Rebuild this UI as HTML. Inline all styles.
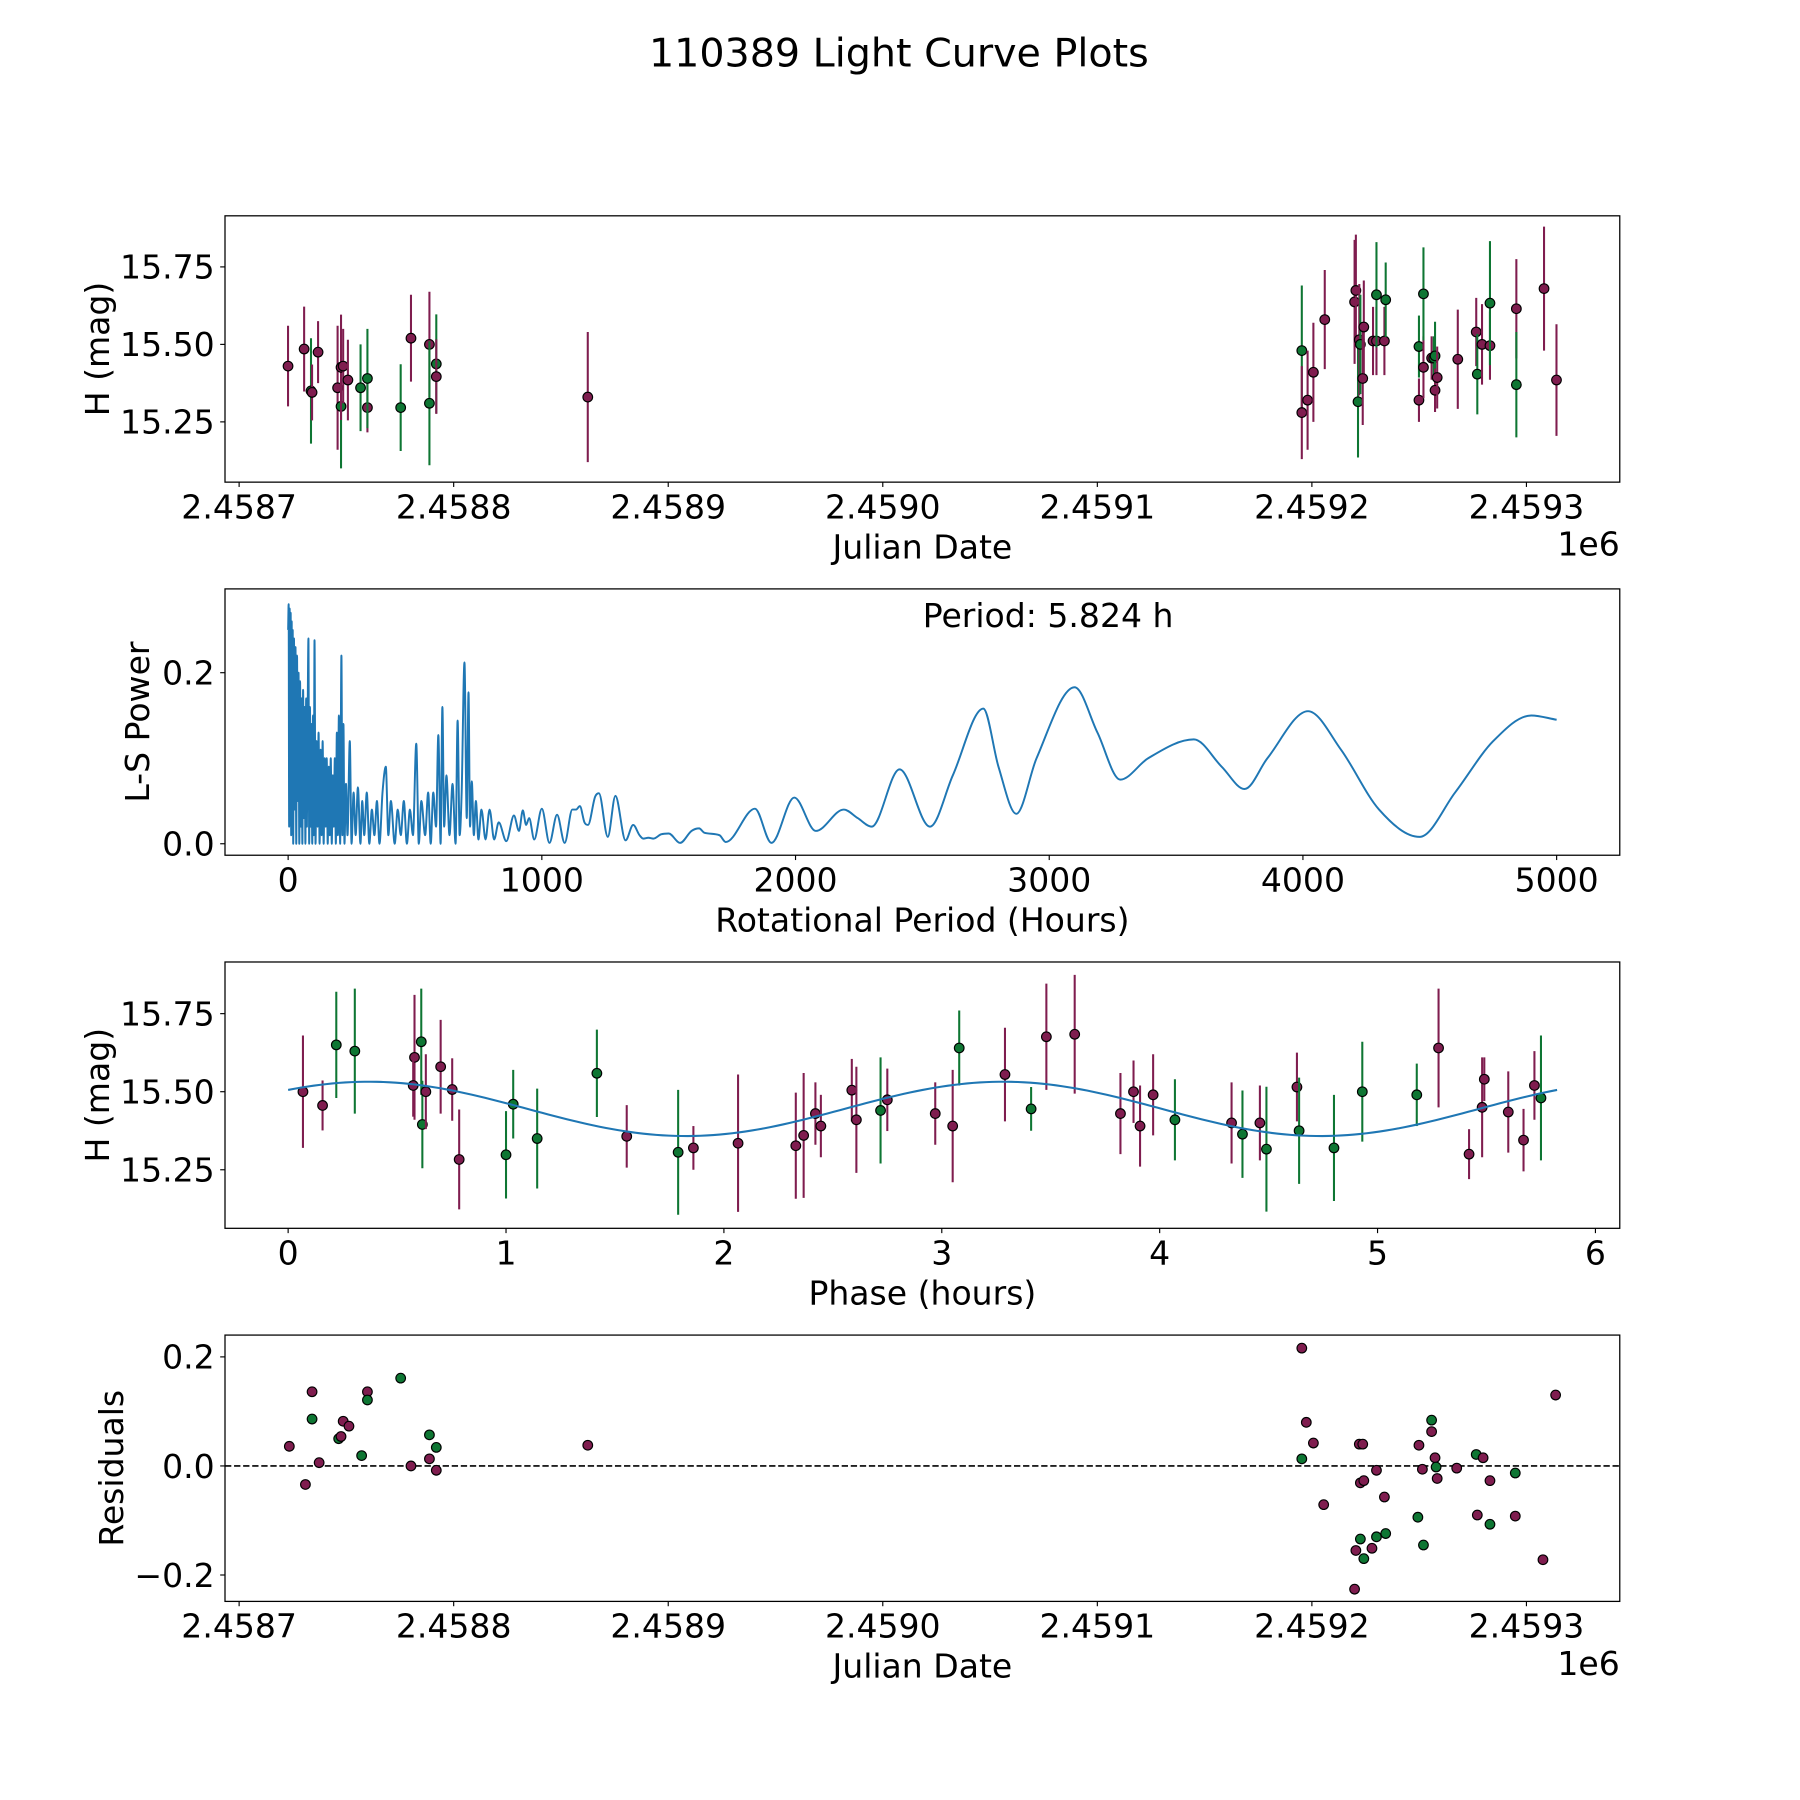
<!DOCTYPE html>
<html><head><meta charset="utf-8"><title>110389 Light Curve Plots</title>
<style>
html,body{margin:0;padding:0;background:#fff;}
svg{display:block;}
text{font-family:"DejaVu Sans","Liberation Sans",sans-serif;fill:#000;}
</style></head>
<body>
<svg id="fig" width="1800" height="1800" viewBox="0 0 1568 1568" xmlns="http://www.w3.org/2000/svg">
<text x="783" y="58" font-size="34.5" text-anchor="middle">110389 Light Curve Plots</text>
</svg>
<script>
// ---------- Panel 1: light curve (day offset from 2458700) ----------
const lcDays = [22.8,30.3,33.5,34.0,36.8,45.9,47.5,47.5,48.5,50.7,56.6,59.8,59.8,75.3,80.1,88.7,88.7,91.9,91.9,162.5,
 495.3,495.3,498,500.7,506,519.9,520.5,521.5,522.1,522.6,523.7,524.2,528.5,530.1,530.1,533.8,534.4,549.9,549.9,552,552,555.8,556.8,557.4,557.4,558.4,568,576.6,577.1,579.3,583,583,595.3,595.3,608.2,614];
const lcMag = [15.43,15.485,15.35,15.345,15.475,15.36,15.30,15.426,15.43,15.385,15.36,15.296,15.39,15.296,15.52,15.5,15.31,15.437,15.396,15.33,
 15.48,15.28,15.32,15.41,15.58,15.637,15.674,15.315,15.515,15.5,15.39,15.556,15.511,15.511,15.66,15.511,15.644,15.493,15.32,15.426,15.663,15.456,15.456,15.463,15.352,15.393,15.452,15.54,15.404,15.5,15.496,15.633,15.615,15.37,15.68,15.385];
const lcErr = [0.13,0.137,0.17,0.09,0.1,0.2,0.2,0.17,0.12,0.13,0.14,0.08,0.16,0.14,0.14,0.17,0.2,0.16,0.12,0.21,
 0.21,0.15,0.16,0.16,0.16,0.2,0.18,0.18,0.18,0.16,0.15,0.15,0.11,0.11,0.17,0.11,0.12,0.1,0.07,0.1,0.15,0.07,0.07,0.11,0.07,0.1,0.16,0.11,0.13,0.13,0.11,0.2,0.16,0.17,0.2,0.18];
const lcBand = ['p','p','g','p','p','p','g','p','p','p','g','p','g','g','p','p','g','g','p','p',
 'g','p','p','p','p','p','p','g','p','g','p','p','p','p','g','p','g','g','p','p','g','p','g','g','p','p','p','p','g','p','p','g','p','g','p','p'];
const jdTicks = [2458700,2458800,2458900,2459000,2459100,2459200,2459300];
const jdTickLabels = ['2.4587','2.4588','2.4589','2.4590','2.4591','2.4592','2.4593'];
const magTicks = [15.25,15.5,15.75];
const magTickLabels = ['15.25','15.50','15.75'];

// ---------- Panel 2: Lomb-Scargle periodogram ----------
const lsPeriod = [0,2,4,6,8,10,12,14,16,18,20,23,26,29,32,35,38,41,44,47,50,53,56,59,62,65,68,71,74,77,80,83,86,89,92,95,98,101,104,108,112,116,120,124,128,132,136,140,144,148,152,156,160,164,168,172,176,180,184,188,192,196,200,205,210,214,218,222,228,234,243,250,258,266,275,285,292,300,310,320,330,340,350,360,372,385,395,405,420,432,444,456,468,480,492,505,515,525,540,552,562,572,583,592,601,608,615,624,636,648,660,668,676,684,695,704,711,717,724,732,740,750,762,778,794,812,830,860,890,910,925,938,950,970,1000,1030,1060,1090,1120,1135,1150,1168,1182,1210,1225,1260,1290,1330,1360,1385,1400,1420,1440,1470,1500,1545,1590,1620,1640,1700,1725,1840,1905,1995,2080,2190,2245,2300,2410,2530,2620,2740,2800,2870,2950,3100,3190,3280,3390,3570,3680,3770,3860,4020,4150,4300,4460,4600,4750,4900,5000];
const lsPower = [0.25,0.28,0.02,0.275,0.05,0.27,0.01,0.26,0.03,0.25,0.0,0.24,0.04,0.23,0.0,0.22,0.05,0.2,0.0,0.19,0.02,0.17,0.0,0.18,0.03,0.16,0.0,0.17,0.02,0.15,0.24,0.0,0.16,0.02,0.14,0.0,0.15,0.01,0.238,0.0,0.12,0.02,0.13,0.0,0.11,0.01,0.12,0.0,0.1,0.02,0.1,0.0,0.09,0.01,0.1,0.0,0.08,0.02,0.1,0.0,0.13,0.01,0.15,0.0,0.22,0.01,0.14,0.0,0.07,0.01,0.12,0.0,0.06,0.01,0.066,0.0,0.05,0.01,0.06,0.0,0.04,0.01,0.05,0.0,0.06,0.09,0.01,0.05,0.0,0.04,0.01,0.05,0.0,0.04,0.01,0.117,0.0,0.05,0.01,0.06,0.0,0.06,0.02,0.127,0.0,0.16,0.02,0.08,0.01,0.07,0.0,0.144,0.01,0.06,0.212,0.03,0.177,0.02,0.073,0.01,0.05,0.005,0.04,0.005,0.04,0.005,0.025,0.003,0.033,0.015,0.039,0.022,0.03,0.005,0.041,0.001,0.034,0.001,0.04,0.04,0.044,0.025,0.022,0.055,0.059,0.008,0.056,0.004,0.022,0.01,0.006,0.007,0.006,0.011,0.012,0.001,0.015,0.018,0.013,0.01,0.002,0.041,0.001,0.054,0.015,0.04,0.03,0.02,0.087,0.02,0.08,0.158,0.09,0.035,0.1,0.183,0.13,0.075,0.1,0.122,0.09,0.064,0.1,0.155,0.11,0.04,0.008,0.06,0.12,0.15,0.145];
const lsXTicks = [0,1000,2000,3000,4000,5000];
const lsYTicks = [0.0,0.2];
const lsYTickLabels = ['0.0','0.2'];
const bestPeriodLabel = 'Period: 5.824 h';

// ---------- Panel 3: phased light curve ----------
const phHours = [0.068,0.158,0.221,0.306,0.58,0.574,0.611,0.616,0.632,0.70,0.753,0.785,1.0,1.033,1.143,1.417,1.554,1.79,1.86,2.065,2.33,2.366,2.42,2.445,2.587,2.608,2.719,2.75,2.97,3.05,3.08,3.29,3.41,3.48,3.61,3.82,3.88,3.91,3.97,4.07,4.33,4.38,4.46,4.49,4.63,4.64,4.8,4.93,5.18,5.28,5.42,5.48,5.49,5.6,5.67,5.72,5.75];
const phMag = [15.5,15.456,15.65,15.63,15.61,15.52,15.66,15.395,15.5,15.58,15.507,15.283,15.298,15.46,15.35,15.559,15.357,15.306,15.32,15.335,15.327,15.36,15.43,15.39,15.505,15.41,15.44,15.474,15.43,15.39,15.64,15.555,15.445,15.676,15.684,15.43,15.5,15.39,15.49,15.41,15.4,15.364,15.4,15.316,15.515,15.375,15.32,15.5,15.49,15.64,15.3,15.45,15.54,15.435,15.345,15.52,15.48];
const phErr = [0.18,0.08,0.17,0.2,0.2,0.1,0.17,0.14,0.12,0.15,0.1,0.16,0.14,0.11,0.16,0.14,0.1,0.2,0.07,0.22,0.17,0.2,0.1,0.1,0.1,0.17,0.17,0.1,0.1,0.18,0.12,0.15,0.07,0.17,0.19,0.13,0.1,0.13,0.13,0.13,0.13,0.14,0.12,0.2,0.11,0.17,0.17,0.16,0.1,0.19,0.08,0.16,0.07,0.13,0.1,0.11,0.2];
const phBand = ['p','p','g','g','p','p','g','g','p','p','p','p','g','g','g','g','p','g','p','p','p','p','p','p','p','p','g','p','p','p','g','p','g','p','p','p','p','p','p','g','p','g','p','g','p','g','g','g','g','p','p','p','p','p','p','p','g'];
// fitted model: [mean mag, amplitude, period (h), phase of max (h)], curve spans 0..5.824 h
const modelParams = [15.445,0.087,2.912,0.37];
const modelSpan = [0,5.824];
const phXTicks = [0,1,2,3,4,5,6];

// ---------- Panel 4: residuals ----------
const resDays = [23.4,30.9,34.0,34.0,37.3,46.4,47.5,48.5,51.2,57.1,59.8,59.8,75.3,80.1,88.7,88.7,91.9,91.9,162.5,
 495.3,495.3,497.4,500.7,505.5,519.9,520.5,522.6,522.1,523.7,522.6,524.2,524.2,528,530.1,530.1,533.8,534.4,549.9,549.4,551.5,552,555.8,555.8,557.4,557.9,558.4,567.5,577.1,576.6,579.8,583,583,594.8,594.8,607.7,613.6];
const resVal = [0.036,-0.034,0.136,0.086,0.006,0.05,0.054,0.082,0.073,0.019,0.136,0.121,0.161,0.0,0.057,0.013,0.034,-0.008,0.038,
 0.216,0.013,0.08,0.042,-0.071,-0.226,-0.155,-0.134,0.04,0.04,-0.031,-0.027,-0.17,-0.151,-0.13,-0.008,-0.057,-0.124,0.038,-0.094,-0.006,-0.145,0.063,0.084,0.015,-0.002,-0.023,-0.004,-0.09,0.021,0.015,-0.027,-0.107,-0.092,-0.013,-0.172,0.13];
const resBand = ['p','p','p','g','p','g','p','p','p','g','p','g','g','p','g','p','g','p','p',
 'p','g','p','p','p','p','p','g','p','p','p','p','g','p','g','p','p','g','p','g','p','g','p','g','p','g','p','p','p','g','p','p','g','p','g','p','p'];
const resYTicks = [-0.2,0.0,0.2];
const resYTickLabels = ['\u22120.2','0.0','0.2'];

// ---------- rendering ----------
const NS='http://www.w3.org/2000/svg';
const svg=document.getElementById('fig');
const COL={p:'#7f1d4f',g:'#0e7633'};
const L=196,R=1411,H=232;
const FS=28.8;
const tops=[188,513,838,1163];
function mk(tag,attrs,parent){const e=document.createElementNS(NS,tag);for(const k in attrs)e.setAttribute(k,attrs[k]);(parent||svg).appendChild(e);return e;}
function scale(d0,d1,r0,r1){return v=>r0+(v-d0)*(r1-r0)/(d1-d0);}

function frame(i,name){
  const g=mk('g',{});
  
  
  const cp=mk('clipPath',{id:'clip'+i},g);
  mk('rect',{x:L,y:tops[i],width:R-L,height:H},cp);
  const plot=mk('g',{'clip-path':'url(#clip'+i+')'},g);
  
  
  return {g,plot};
}
function border(g,i){
  const b=mk('rect',{x:L,y:tops[i],width:R-L,height:H,fill:'none',stroke:'#000','stroke-width':1.1},g);
  
  
}
function xTicks(g,i,vals,labels,sx){
  const y=tops[i]+H;
  vals.forEach((v,k)=>{
    const x=sx(v);
    const t=mk('line',{x1:x,x2:x,y1:y,y2:y+4.2,stroke:'#000','stroke-width':1},g);
    
    
    const tx=mk('text',{x:x,y:y+31.5,'font-size':FS,'text-anchor':'middle'},g);
    tx.textContent=labels[k];
    
    
  });
}
function yTicks(g,i,vals,labels,sy){
  vals.forEach((v,k)=>{
    const y=sy(v);
    const t=mk('line',{x1:L-4.2,x2:L,y1:y,y2:y,stroke:'#000','stroke-width':1},g);
    
    
    const tx=mk('text',{x:L-9,y:y+10.3,'font-size':FS,'text-anchor':'end'},g);
    tx.textContent=labels[k];
    
    
  });
}
function xLabel(g,i,txt,offsetE){
  const y=tops[i]+H;
  const t=mk('text',{x:(L+R)/2,y:y+66.5,'font-size':FS,'text-anchor':'middle'},g);
  t.textContent=txt;
  
  
  if(offsetE){
    const e=mk('text',{x:R,y:y+64,'font-size':FS,'text-anchor':'end'},g);
    e.textContent='1e6';
    
    
  }
}
function yLabel(g,i,txt,x){
  const cy=tops[i]+H/2;
  const t=mk('text',{x:x,y:cy,'font-size':FS,'text-anchor':'middle',transform:'rotate(-90 '+x+' '+cy+')'},g);
  t.textContent=txt;
  
  
}
function errPoint(plot,x,y,y1,y2,band,withErr){
  if(withErr){
    const l=mk('line',{x1:x,x2:x,y1:y1,y2:y2,stroke:COL[band],'stroke-width':1.8},plot);
    
    
  }
  const c=mk('circle',{cx:x,cy:y,r:4.2,fill:COL[band],stroke:'#000','stroke-width':1},plot);
  
  
}

// Panel 1
(function(){
  const f=frame(0,'light-curve-panel');
  const sx=scale(2458700,2458800,208.3,395.2), sy=scale(15.5,15.75,300,232.5);
  lcDays.forEach((d,k)=>{const m=lcMag[k],e=lcErr[k];
    errPoint(f.plot,sx(2458700+d),sy(m),sy(m+e),sy(m-e),lcBand[k],true);});
  border(f.g,0);
  xTicks(f.g,0,jdTicks,jdTickLabels,sx);
  yTicks(f.g,0,magTicks,magTickLabels,sy);
  xLabel(f.g,0,'Julian Date',true);
  yLabel(f.g,0,'H (mag)',95);
})();

// Panel 2
(function(){
  const f=frame(1,'periodogram-panel');
  const sx=scale(0,5000,251,1356), sy=scale(0,0.2,735,586);
  const xs=lsPeriod.map(sx), ys=lsPower.map(sy);
  const n=xs.length, dl=[], m=[];
  for(let k=0;k<n-1;k++){const dx=xs[k+1]-xs[k];dl.push(dx?((ys[k+1]-ys[k])/dx):0);}
  m[0]=dl[0];m[n-1]=dl[n-2];
  for(let k=1;k<n-1;k++){m[k]=(dl[k-1]*dl[k]<=0)?0:(dl[k-1]+dl[k])/2;}
  for(let k=0;k<n-1;k++){if(dl[k]===0){m[k]=0;m[k+1]=0;continue;}
    const a=m[k]/dl[k],b=m[k+1]/dl[k],s=a*a+b*b;if(s>9){const t=3/Math.sqrt(s);m[k]=t*a*dl[k];m[k+1]=t*b*dl[k];}}
  let d='M'+xs[0].toFixed(2)+','+ys[0].toFixed(2);
  for(let k=0;k<n-1;k++){const h=(xs[k+1]-xs[k])/3;
    d+='C'+(xs[k]+h).toFixed(2)+','+(ys[k]+m[k]*h).toFixed(2)+' '+(xs[k+1]-h).toFixed(2)+','+(ys[k+1]-m[k+1]*h).toFixed(2)+' '+xs[k+1].toFixed(2)+','+ys[k+1].toFixed(2);}
  const p=mk('path',{d:d,fill:'none',stroke:'#1f77b4','stroke-width':1.7,'stroke-linejoin':'round'},f.plot);
  
  
  const t=mk('text',{x:913,y:546,'font-size':FS,'text-anchor':'middle'},f.g);
  t.textContent=bestPeriodLabel;
  
  
  border(f.g,1);
  xTicks(f.g,1,lsXTicks,lsXTicks.map(String),sx);
  yTicks(f.g,1,lsYTicks,lsYTickLabels,sy);
  xLabel(f.g,1,'Rotational Period (Hours)',false);
  yLabel(f.g,1,'L-S Power',130);
})();

// Panel 3
(function(){
  const f=frame(2,'phase-panel');
  const sx=scale(0,1,251,440.8), sy=scale(15.5,15.75,951,883);
  let pts=[];
  for(let k=0;k<=200;k++){const h=modelSpan[0]+(modelSpan[1]-modelSpan[0])*k/200;
    const v=modelParams[0]+modelParams[1]*Math.cos(2*Math.PI*(h-modelParams[3])/modelParams[2]);
    pts.push(sx(h).toFixed(2)+','+sy(v).toFixed(2));}
  phHours.forEach((h,k)=>{const m=phMag[k],e=phErr[k];
    errPoint(f.plot,sx(h),sy(m),sy(m+e),sy(m-e),phBand[k],true);});
  const pl=mk('polyline',{points:pts.join(' '),fill:'none',stroke:'#1f77b4','stroke-width':1.8},f.plot);
  
  
  border(f.g,2);
  xTicks(f.g,2,phXTicks,phXTicks.map(String),sx);
  yTicks(f.g,2,magTicks,magTickLabels,sy);
  xLabel(f.g,2,'Phase (hours)',false);
  yLabel(f.g,2,'H (mag)',95);
})();

// Panel 4
(function(){
  const f=frame(3,'residuals-panel');
  const sx=scale(2458700,2458800,208.3,395.2), sy=scale(0,0.2,1277,1182);
  const z=mk('line',{x1:L,x2:R,y1:sy(0),y2:sy(0),stroke:'#000','stroke-width':1.4,'stroke-dasharray':'5.5,2.4'},f.plot);
  
  
  resDays.forEach((d,k)=>{errPoint(f.plot,sx(2458700+d),sy(resVal[k]),0,0,resBand[k],false);});
  border(f.g,3);
  xTicks(f.g,3,jdTicks,jdTickLabels,sx);
  yTicks(f.g,3,resYTicks,resYTickLabels,sy);
  xLabel(f.g,3,'Julian Date',true);
  yLabel(f.g,3,'Residuals',107);
})();
</script>
</body></html>
